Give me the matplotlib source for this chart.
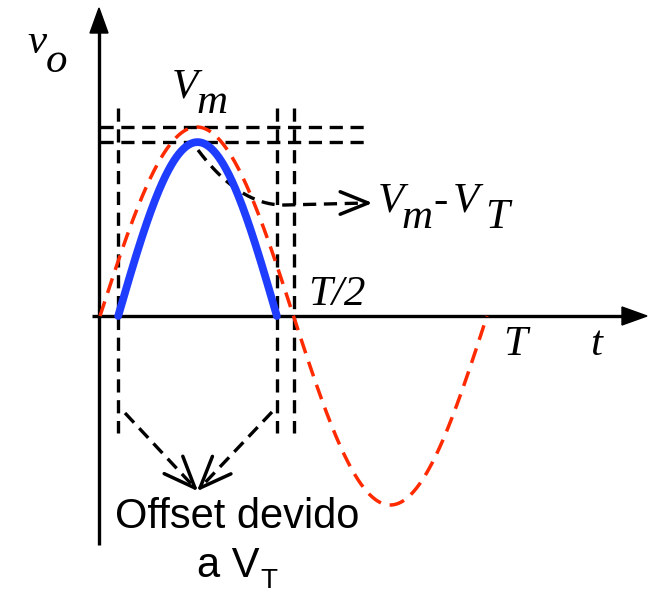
import numpy as np
import matplotlib
matplotlib.use("Agg")
import matplotlib.pyplot as plt
import matplotlib.transforms as mtransforms

# ---- data (normalised units: period T, amplitude Vm) ----
T = 1.0          # period
Vm = 1.0         # peak of the input sine
VT = 0.08        # diode threshold drop
t_on = 0.047     # instant the diode starts to conduct
t_off = 0.457    # instant the diode stops conducting
labels = {"vo": ("v", "o"), "Vm": ("V", "m"), "t": "t", "T": "T", "T2": "T/2"}
caption = ["Offset devido", "a V", "T"]

# ---- figure / layout ----
W, H = 657, 595
X0, Y0 = 100, 316          # pixel position of the origin
SX, SY = 387.0, 189.0      # pixels per T and per Vm

plt.rcParams['lines.scale_dashes'] = False
fig = plt.figure(figsize=(W / 100, H / 100), dpi=100)
ax = fig.add_axes([0, 0, 1, 1])
ax.set_xlim(-X0 / SX, (W - X0) / SX)
ax.set_ylim(-(H - Y0) / SY, Y0 / SY)
ax.axis('off')

# pixel transform (x right, y down, origin top-left)
pix = mtransforms.Affine2D().scale(1 / W, -1 / H).translate(0, 1) + fig.transFigure

BLACK_DASH = (0, (9.5, 5.5))
DLW = 2.4
RED = '#ff2a00'
BLUE = '#1f3dff'

# ---- axes with filled arrowheads ----
ax.plot([X0 - 1, X0 - 1], [545, 30], color='k', lw=2.4, transform=pix, solid_capstyle='butt')
ax.fill([X0 - 1, X0 - 10, X0 + 8], [8, 33, 33], color='k', transform=pix)
ax.plot([92, 625], [Y0, Y0], color='k', lw=2.4, transform=pix, solid_capstyle='butt')
ax.fill([647, 622, 622], [Y0, Y0 - 9, Y0 + 9], color='k', transform=pix)

# ---- input sine (red dashed) ----
t = np.linspace(0, T, 400)
ax.plot(t, Vm * np.sin(2 * np.pi * t / T), color=RED, lw=2.5, ls=(0, (11, 6.5)), zorder=3)

# ---- output half-wave (blue) ----
tb = np.linspace(t_on, t_off, 200)
ax.plot(tb, (Vm - VT) * np.sin(np.pi * (tb - t_on) / (t_off - t_on)),
        color=BLUE, lw=5.6, solid_capstyle='round', zorder=4)

# ---- guide lines ----
for tv in (t_on, t_off, T / 2):
    ax.plot([tv, tv], [1.10, -0.62], color='k', lw=DLW, ls=BLACK_DASH, zorder=2)
for vv in (Vm, Vm - VT):
    ax.plot([0.0, 0.693], [vv, vv], color='k', lw=DLW, ls=BLACK_DASH, zorder=2)


def open_head(tip, direction, L=26, ang=24, lw=2.5):
    d = np.array(direction, float)
    d /= np.hypot(*d)
    a = np.deg2rad(ang)
    for s in (1, -1):
        c, sn = np.cos(s * a), np.sin(s * a)
        r = np.array([c * d[0] - sn * d[1], sn * d[0] + c * d[1]])
        p = np.array(tip) - L * r
        ax.plot([p[0], tip[0]], [p[1], tip[1]], color='k', lw=lw,
                transform=pix, solid_capstyle='round')


# Vm - VT pointer (curved dashed arrow)
s = np.linspace(0, 1, 60)
p0, c1, p1 = np.array([198, 150]), np.array([240, 206]), np.array([285, 205])
bez = ((1 - s) ** 2)[:, None] * p0 + (2 * (1 - s) * s)[:, None] * c1 + (s ** 2)[:, None] * p1
path = np.vstack([bez, [[366, 203]]])
ax.plot(path[:, 0], path[:, 1], color='k', lw=DLW, ls=BLACK_DASH, transform=pix)
open_head((368, 203), (1, 0), L=30, ang=22)

# offset pointers
for a0, tip in (((125, 413), (195, 488)), ((272, 412), (200, 488))):
    ax.plot([a0[0], tip[0]], [a0[1], tip[1]], color='k', lw=DLW, ls=BLACK_DASH, transform=pix)
    open_head(tip, (tip[0] - a0[0], tip[1] - a0[1]), L=34, ang=22)

# ---- labels ----
serif = dict(family='Liberation Serif', style='italic', fontsize=31, transform=pix, color='k')
ax.text(27, 53, labels["vo"][0], ha='left', va='baseline', **serif)
ax.text(46, 72, labels["vo"][1], ha='left', va='baseline', **serif)
ax.text(172, 97, labels["Vm"][0], ha='left', va='baseline', **serif)
ax.text(196, 113, labels["Vm"][1], ha='left', va='baseline', **serif)
ax.text(378, 212, "V", ha='left', va='baseline', **serif)
ax.text(401, 228, "m", ha='left', va='baseline', **serif)
ax.text(433, 212, "-", ha='left', va='baseline', **serif)
ax.text(453, 212, "V", ha='left', va='baseline', **serif)
ax.text(485, 228, "T", ha='left', va='baseline', **serif)
ax.text(308, 305, labels["T2"], ha='left', va='baseline', **serif)
ax.text(503, 355, labels["T"], ha='left', va='baseline', **serif)
ax.text(590, 355, labels["t"], ha='left', va='baseline', **serif)

sans = dict(family='Liberation Sans', color='k', transform=pix)
ax.text(237, 528, caption[0], ha='center', va='baseline', fontsize=30, **sans)
ax.text(197, 577, caption[1], ha='left', va='baseline', fontsize=30, **sans)
ax.text(260, 588, caption[2], ha='left', va='baseline', fontsize=20, **sans)

fig.savefig('out.png', dpi=100)
